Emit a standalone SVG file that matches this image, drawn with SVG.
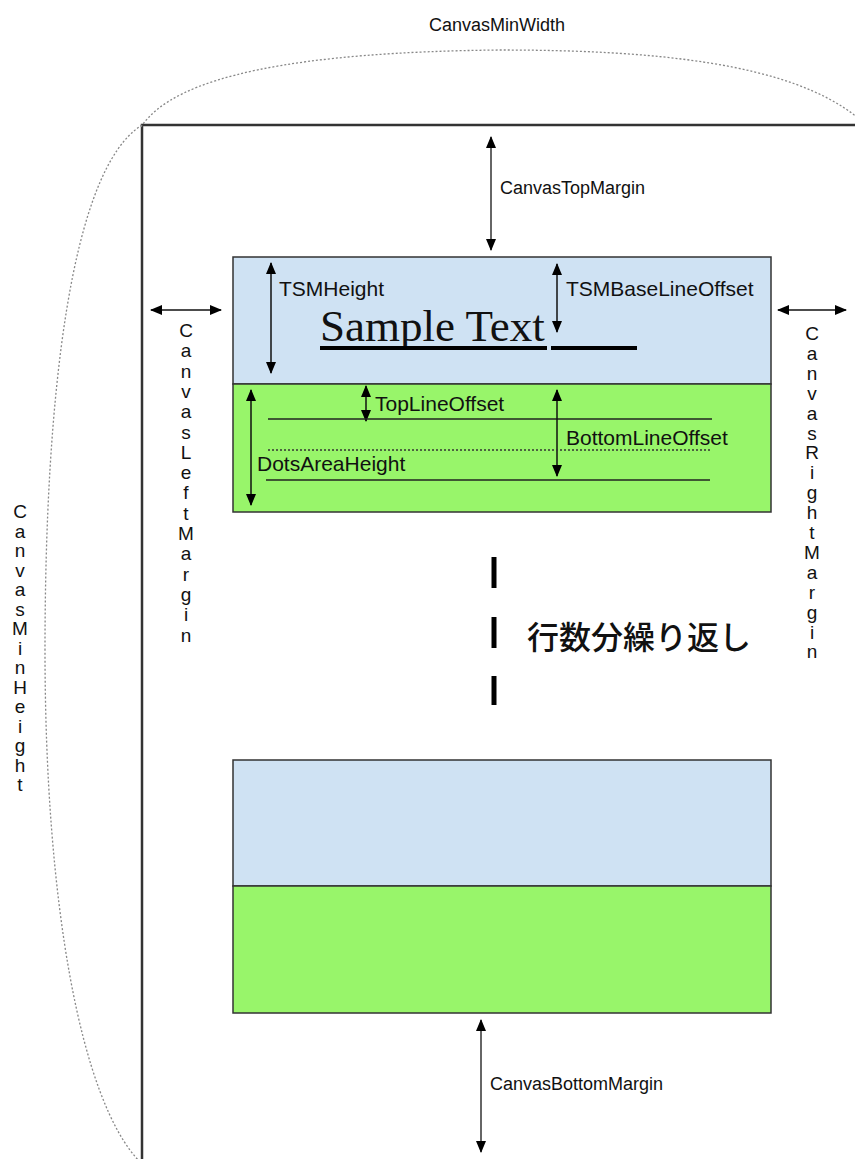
<svg xmlns="http://www.w3.org/2000/svg" width="855" height="1159" viewBox="0 0 855 1159">
<defs>
<style>
.lbl{font-family:"Liberation Sans",Arial,sans-serif;font-size:18px;fill:#111}
.ilbl{font-family:"Liberation Sans",Arial,sans-serif;font-size:21px;fill:#111}
.vlbl{font-family:"Liberation Sans",Arial,sans-serif;font-size:19px;fill:#111;text-anchor:middle}
.dot{fill:none;stroke:#888;stroke-width:1.3;stroke-dasharray:2,2}
.arr{stroke:#111;stroke-width:1.5;fill:none;marker-start:url(#ah);marker-end:url(#ah)}
.garr{stroke:#666;stroke-width:2;fill:none;marker-start:url(#ah);marker-end:url(#ah)}
.tsm{fill:#cfe2f3;stroke:#333;stroke-width:1.5}
.dots{fill:#98f56a;stroke:#333;stroke-width:1.5}
.ln{stroke:#222;stroke-width:1.5}
.bar{stroke:#000;stroke-width:5}
</style>
<marker id="ah" viewBox="0 0 12 10" refX="11" refY="5" markerWidth="12" markerHeight="10" markerUnits="userSpaceOnUse" orient="auto-start-reverse">
<path d="M0,0 L12,5 L0,10 z" fill="#000"/>
</marker>
</defs>
<rect width="855" height="1159" fill="#fff"/>

<g id="canvas">
<path d="M142,1159 V125 H855" fill="none" stroke="#333" stroke-width="2.5"/>
</g>

<g id="connectors">
<path class="dot" d="M141,127 C175,75 300,52 500,50 C650,50 790,62 858,118"/>
<path class="dot" d="M142,125 C70,170 45,400 45,650 C45,900 80,1100 140,1162"/>
<line class="garr" x1="491" y1="137" x2="491" y2="250"/>
<line class="arr" x1="151" y1="310" x2="221" y2="310"/>
<line class="arr" x1="778" y1="310" x2="846" y2="310"/>
<line class="garr" x1="481" y1="1020" x2="481" y2="1152"/>
</g>

<g id="min-width-label"><text class="lbl" x="497" y="31" text-anchor="middle">CanvasMinWidth</text></g>
<g id="top-margin-label"><text class="lbl" x="500" y="194">CanvasTopMargin</text></g>
<g id="bottom-margin-label"><text class="lbl" x="490" y="1090">CanvasBottomMargin</text></g>

<g id="min-height-label">
<text class="vlbl" x="20" y="518"><tspan x="20">C</tspan><tspan x="20" dy="19.5">a</tspan><tspan x="20" dy="19.5">n</tspan><tspan x="20" dy="19.5">v</tspan><tspan x="20" dy="19.5">a</tspan><tspan x="20" dy="19.5">s</tspan><tspan x="20" dy="19.5">M</tspan><tspan x="20" dy="19.5">i</tspan><tspan x="20" dy="19.5">n</tspan><tspan x="20" dy="19.5">H</tspan><tspan x="20" dy="19.5">e</tspan><tspan x="20" dy="19.5">i</tspan><tspan x="20" dy="19.5">g</tspan><tspan x="20" dy="19.5">h</tspan><tspan x="20" dy="19.5">t</tspan></text>
</g>

<g id="left-margin-label">
<text class="vlbl" x="186" y="337"><tspan x="186">C</tspan><tspan x="186" dy="20.3">a</tspan><tspan x="186" dy="20.3">n</tspan><tspan x="186" dy="20.3">v</tspan><tspan x="186" dy="20.3">a</tspan><tspan x="186" dy="20.3">s</tspan><tspan x="186" dy="20.3">L</tspan><tspan x="186" dy="20.3">e</tspan><tspan x="186" dy="20.3">f</tspan><tspan x="186" dy="20.3">t</tspan><tspan x="186" dy="20.3">M</tspan><tspan x="186" dy="20.3">a</tspan><tspan x="186" dy="20.3">r</tspan><tspan x="186" dy="20.3">g</tspan><tspan x="186" dy="20.3">i</tspan><tspan x="186" dy="20.3">n</tspan></text>
</g>

<g id="right-margin-label">
<text class="vlbl" x="812" y="340"><tspan x="812">C</tspan><tspan x="812" dy="19.9">a</tspan><tspan x="812" dy="19.9">n</tspan><tspan x="812" dy="19.9">v</tspan><tspan x="812" dy="19.9">a</tspan><tspan x="812" dy="19.9">s</tspan><tspan x="812" dy="19.9">R</tspan><tspan x="812" dy="19.9">i</tspan><tspan x="812" dy="19.9">g</tspan><tspan x="812" dy="19.9">h</tspan><tspan x="812" dy="19.9">t</tspan><tspan x="812" dy="19.9">M</tspan><tspan x="812" dy="19.9">a</tspan><tspan x="812" dy="19.9">r</tspan><tspan x="812" dy="19.9">g</tspan><tspan x="812" dy="19.9">i</tspan><tspan x="812" dy="19.9">n</tspan></text>
</g>

<g id="tsm-row1">
<rect class="tsm" x="233" y="257" width="538" height="127"/>
<line class="arr" x1="271" y1="263" x2="271" y2="373"/>
<text class="ilbl" x="279" y="296">TSMHeight</text>
<line class="arr" x1="557" y1="264" x2="557" y2="332"/>
<text class="ilbl" x="566" y="296">TSMBaseLineOffset</text>
<text x="320" y="341" font-family="'Liberation Serif','Times New Roman',serif" font-size="45" fill="#111">Sample Text</text>
<line x1="320" y1="348" x2="547" y2="348" stroke="#000" stroke-width="4"/>
<line x1="551" y1="348" x2="637" y2="348" stroke="#000" stroke-width="4"/>
</g>

<g id="dots-row1">
<rect class="dots" x="233" y="384" width="538" height="128"/>
<line class="arr" x1="366" y1="386" x2="366" y2="421"/>
<text class="ilbl" x="375" y="411">TopLineOffset</text>
<line class="ln" x1="268" y1="419" x2="712" y2="419"/>
<line class="arr" x1="557" y1="390" x2="557" y2="476"/>
<text class="ilbl" x="566" y="445">BottomLineOffset</text>
<line x1="268" y1="450" x2="712" y2="450" stroke="#333" stroke-width="1.5" stroke-dasharray="2,2"/>
<text class="ilbl" x="257" y="471">DotsAreaHeight</text>
<line class="ln" x1="266" y1="480" x2="710" y2="480"/>
<line class="arr" x1="251" y1="390" x2="251" y2="505"/>
</g>

<g id="repeat">
<line class="bar" x1="494" y1="557" x2="494" y2="588"/>
<line class="bar" x1="494" y1="617" x2="494" y2="648"/>
<line class="bar" x1="494" y1="676" x2="494" y2="705"/>
<text x="527" y="649" font-family="'Noto Sans CJK JP','Noto Sans CJK SC',sans-serif" font-size="32" font-weight="500" fill="#111">行数分繰り返し</text>
</g>

<g id="tsm-row2"><rect class="tsm" x="233" y="760" width="538" height="126"/></g>
<g id="dots-row2"><rect class="dots" x="233" y="886" width="538" height="127"/></g>
</svg>
